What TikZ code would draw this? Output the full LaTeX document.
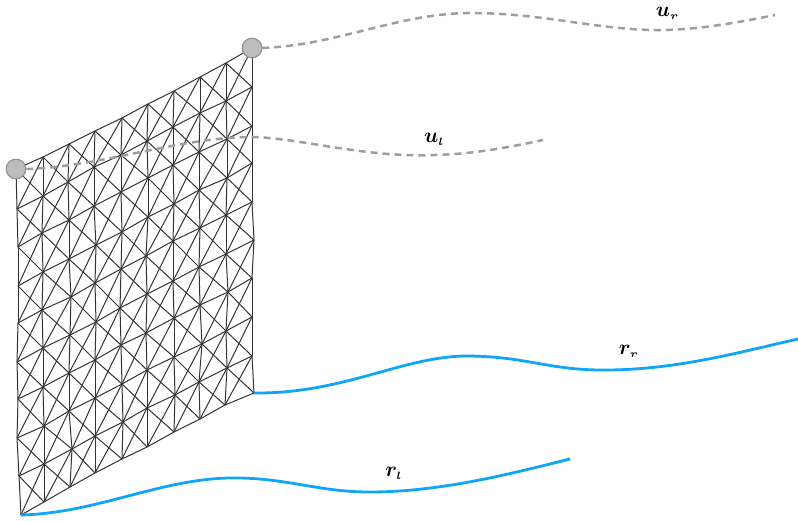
\documentclass[tikz,border=0pt]{standalone}
\usepackage{amsmath}
\usepackage{bm}
\tikzset{
  meshline/.style={draw=black!80,line width=1pt},
  guide/.style={draw=black!38,line width=2.5pt,dash pattern=on 7pt off 5pt},
  rail/.style={draw=railblue,line width=2.8pt},
  pin/.style={circle,draw=black!42,fill=black!26,line width=1pt,minimum size=19.5pt,inner sep=0pt},
  lab/.style={scale=2.1,inner sep=0pt,text=black}
}
\definecolor{railblue}{HTML}{10A6F7}
\begin{document}
\begin{tikzpicture}[x=1pt,y=-1pt]
\useasboundingbox (0,0) rectangle (798,521);
\foreach \r/\row in {
0/{0/16/169,1/43/157,2/69/144,3/95/131,4/122/118,5/148/104,6/174/91,7/200/77,8/226/63,9/252/48},
1/{0/17/209,1/43/196,2/68/182,3/94/167,4/121/155,5/147/141,6/173/127,7/200/113,8/226/101,9/252/87},
2/{0/18/247,1/42/233,2/69/220,3/94/206,4/121/192,5/148/178,6/173/165,7/199/152,8/227/139,9/252/126},
3/{0/18/286,1/43/272,2/69/259,3/96/245,4/122/232,5/148/217,6/174/204,7/199/190,8/227/178,9/252/163},
4/{0/18/323,1/42/310,2/71/297,3/95/283,4/121/269,5/146/256,6/173/241,7/200/228,8/226/215,9/252/202},
5/{0/17/362,1/43/348,2/70/335,3/96/322,4/120/308,5/147/294,6/173/281,7/199/267,8/226/254,9/254/240},
6/{0/18/399,1/43/387,2/69/373,3/95/360,4/121/345,5/146/333,6/174/318,7/200/305,8/228/292,9/252/278},
7/{0/17/438,1/44/426,2/69/411,3/95/398,4/122/384,5/147/370,6/174/357,7/202/344,8/226/331,9/252/317},
8/{0/19/476,1/44/464,2/72/449,3/95/436,4/123/422,5/147/408,6/175/395,7/199/382,8/227/368,9/252/356},
9/{0/21/515,1/44/502,2/70/487,3/95/473,4/122/459,5/147/447,6/174/432,7/200/419,8/225/405,9/254/393}}
{\foreach \c/\x/\y in \row {\coordinate (n\r-\c) at (\x,\y);}}
% mesh
\foreach \r in {0,...,9}{\foreach \c [count=\d from 1] in {0,...,8}{\draw[meshline] (n\r-\c) -- (n\r-\d);}}
\foreach \c in {0,...,9}{\foreach \r [count=\s from 1] in {0,...,8}{\draw[meshline] (n\r-\c) -- (n\s-\c);}}
\foreach \r [count=\s from 1] in {0,...,8}{\foreach \c [count=\d from 1] in {0,...,8}{
  \draw[meshline] (n\r-\c) -- (n\s-\d);
  \draw[meshline] (n\r-\d) -- (n\s-\c);}}
% rails
\coordinate (rrEnd) at (798,339);
\coordinate (rlEnd) at (570,459);
\draw[rail] (n9-9) .. controls (345,394) and (405,355) .. (470,356) .. controls (530,357) and (550,371) .. (610,370) .. controls (680,369) and (740,352) .. (rrEnd);
\draw[rail] (n9-0) .. controls (100,513) and (165,476) .. (240,478) .. controls (290,479) and (320,492) .. (370,492) .. controls (440,492) and (510,474) .. (rlEnd);
% guides
\node[pin] (pl) at (16,169) {};
\node[pin] (pr) at (252,48) {};
\coordinate (urEnd) at (775,15);
\coordinate (ulEnd) at (543,140);
\draw[guide] (pr.east) .. controls (340,45) and (400,12) .. (475,13) .. controls (550,14) and (600,31) .. (665,30) .. controls (705,29) and (745,21) .. (urEnd);
\draw[guide] (pl.east) .. controls (100,167) and (180,137) .. (252,137) .. controls (300,138) and (365,158) .. (435,155) .. controls (475,154) and (510,147) .. (ulEnd);
\node[pin] at (16,169) {};
\node[pin] at (252,48) {};
% labels
\node[lab] (lur) at (667.5,13) {$\bm{u}_{\scriptscriptstyle\bm{r}}$};
\node[lab] (lul) at (434.5,139) {$\bm{u}_{\scriptscriptstyle\bm{l}}$};
\node[lab] (lrr) at (629,351) {$\bm{r}_{\scriptscriptstyle\bm{r}}$};
\node[lab] (lrl) at (394,473) {$\bm{r}_{\scriptscriptstyle\bm{l}}$};
\end{tikzpicture}
\end{document}
